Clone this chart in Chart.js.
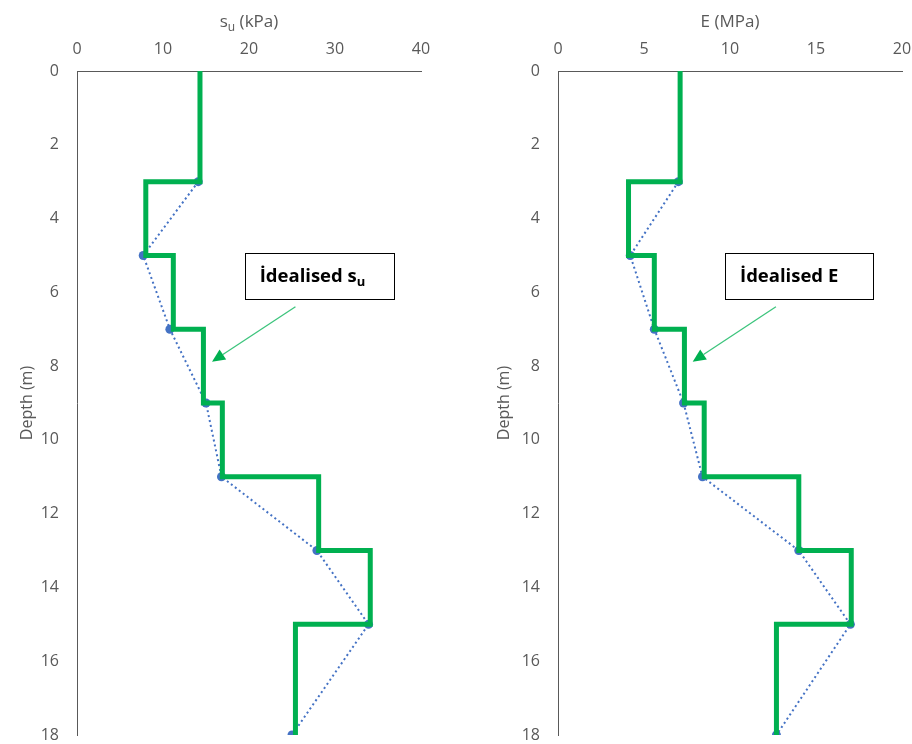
<!DOCTYPE html>
<html>
<head>
<meta charset="utf-8">
<script src="https://cdn.jsdelivr.net/npm/chart.js@4.4.1/dist/chart.umd.min.js"></script>
<style>
  html, body { margin: 0; padding: 0; background: #fff; }
  #wrap { position: relative; width: 912px; height: 744px; }
  canvas { position: absolute; top: 0; }
</style>
</head>
<body>
<div id="wrap">
  <canvas id="suChart" width="456" height="744" style="left:0"></canvas>
  <canvas id="eChart" width="456" height="744" style="left:456px"></canvas>
</div>
<script>
// measured points (depth in m)
var measuredDepth = [3, 5, 7, 9, 11, 13, 15, 18];
var suMeasured = [14.1, 7.7, 10.8, 15.0, 16.8, 27.9, 33.9, 25.0];
var eMeasured = [7.0, 4.2, 5.6, 7.3, 8.4, 14.0, 17.0, 12.7];

// idealised layers: value holds from this depth down to the next one
var layerDepth = [0, 3, 5, 7, 9, 11, 13, 15, 18];
var suIdealised = [14.3, 8.0, 11.2, 14.7, 16.9, 28.1, 34.1, 25.4, 25.4];
var eIdealised = [7.1, 4.1, 5.6, 7.35, 8.5, 14.0, 17.05, 12.7, 12.7];

var depthTicks = [0, 2, 4, 6, 8, 10, 12, 14, 16, 18];

var GREEN = '#00B050';
var BLUE = '#4472C4';
var AXIS = '#595959';
var FONT = "'Open Sans', sans-serif";

function pts(xs, ys) {
  return xs.map(function (v, i) { return { x: v, y: ys[i] }; });
}

// draws x axis title (with optional subscript) and the callout box + arrow
var calloutPlugin = {
  id: 'callout',
  afterDraw: function (chart, args, opts) {
    var ctx = chart.ctx;
    var xs = chart.scales.x, ys = chart.scales.y;
    ctx.save();

    // axis title
    var title = opts.title;
    ctx.textBaseline = 'alphabetic';
    ctx.fillStyle = AXIS;
    var w = 0;
    title.forEach(function (s) {
      ctx.font = s.size + 'px ' + FONT;
      w += ctx.measureText(s.t).width;
    });
    var cx = (chart.chartArea.left + chart.chartArea.right) / 2 - w / 2;
    title.forEach(function (s) {
      ctx.font = s.size + 'px ' + FONT;
      ctx.fillText(s.t, cx, opts.titleY + (s.dy || 0));
      cx += ctx.measureText(s.t).width;
    });

    // box
    var b = opts.box;
    var x0 = xs.getPixelForValue(b.x0), x1 = xs.getPixelForValue(b.x1);
    var y0 = ys.getPixelForValue(b.y0), y1 = ys.getPixelForValue(b.y1);
    ctx.fillStyle = '#fff';
    ctx.fillRect(x0, y0, x1 - x0, y1 - y0);
    ctx.strokeStyle = '#000';
    ctx.lineWidth = 1;
    ctx.strokeRect(Math.round(x0) + 0.5, Math.round(y0) + 0.5, Math.round(x1 - x0), Math.round(y1 - y0));

    ctx.fillStyle = '#000';
    var tx = x0 + 15;
    var ty = (y0 + y1) / 2 + 6;
    opts.label.forEach(function (s) {
      ctx.font = 'bold ' + s.size + 'px ' + FONT;
      ctx.fillText(s.t, tx, ty + (s.dy || 0));
      tx += ctx.measureText(s.t).width;
    });

    // arrow
    var a = opts.arrow;
    var ax0 = xs.getPixelForValue(a.x0), ay0 = ys.getPixelForValue(a.y0);
    var ax1 = xs.getPixelForValue(a.x1), ay1 = ys.getPixelForValue(a.y1);
    var ang = Math.atan2(ay1 - ay0, ax1 - ax0);
    var hl = 13, hw = 6;
    var bx = ax1 - hl * Math.cos(ang), by = ay1 - hl * Math.sin(ang);
    ctx.strokeStyle = '#3CC47C';
    ctx.lineWidth = 1.3;
    ctx.beginPath();
    ctx.moveTo(ax0, ay0);
    ctx.lineTo(bx, by);
    ctx.stroke();
    ctx.fillStyle = GREEN;
    ctx.beginPath();
    ctx.moveTo(ax1, ay1);
    ctx.lineTo(bx + hw * Math.sin(ang), by - hw * Math.cos(ang));
    ctx.lineTo(bx - hw * Math.sin(ang), by + hw * Math.cos(ang));
    ctx.closePath();
    ctx.fill();

    ctx.restore();
  }
};

function makeChart(id, measured, idealised, xMax, xStep, padLeft, padRight, yWidth, callout) {
  return new Chart(document.getElementById(id), {
    type: 'scatter',
    data: {
      datasets: [{
        label: 'Idealised',
        data: pts(idealised, layerDepth),
        showLine: true,
        stepped: 'after',
        borderColor: GREEN,
        borderWidth: 5,
        borderJoinStyle: 'miter',
        pointRadius: 0
      }, {
        label: 'Measured',
        data: pts(measured, measuredDepth),
        showLine: true,
        borderColor: BLUE,
        borderWidth: 2,
        borderDash: [2, 3],
        pointRadius: 4.5,
        pointBackgroundColor: BLUE,
        pointBorderWidth: 0
      }]
    },
    options: {
      responsive: false,
      animation: false,
      layout: { padding: { left: padLeft, right: padRight, top: 0, bottom: 9 } },
      plugins: {
        legend: { display: false },
        tooltip: { enabled: false },
        callout: callout
      },
      scales: {
        x: {
          type: 'linear',
          position: 'top',
          min: 0,
          max: xMax,
          afterFit: function (s) { s.height = 71; s.paddingLeft = 0; s.paddingRight = 0; },
          ticks: { stepSize: xStep, padding: 12, color: AXIS, font: { family: FONT, size: 16 } },
          grid: { display: false, drawTicks: false },
          border: { display: true, color: AXIS, width: 1 }
        },
        y: {
          type: 'linear',
          reverse: true,
          min: 0,
          max: 18,
          afterFit: function (s) { s.width = yWidth; s.paddingTop = 0; s.paddingBottom = 0; },
          afterBuildTicks: function (s) { s.ticks = depthTicks.map(function (v) { return { value: v }; }); },
          ticks: { padding: 18, color: AXIS, font: { family: FONT, size: 16 } },
          grid: { display: false, drawTicks: false },
          border: { display: true, color: AXIS, width: 1 },
          title: { display: true, text: 'Depth (m)', color: AXIS, font: { family: FONT, size: 16 }, padding: { top: 4, bottom: 4 } }
        }
      }
    },
    plugins: [calloutPlugin]
  });
}

makeChart('suChart', suMeasured, suIdealised, 40, 10, 14, 35, 63, {
  title: [{ t: 's', size: 17 }, { t: 'u', size: 12, dy: 4 }, { t: ' (kPa)', size: 17 }],
  titleY: 27,
  box: { x0: 19.5, x1: 36.8, y0: 4.93, y1: 6.19 },
  label: [{ t: 'İdealised s', size: 18.5 }, { t: 'u', size: 13, dy: 4 }],
  arrow: { x0: 25.4, y0: 6.39, x1: 15.7, y1: 7.88 }
});

makeChart('eChart', eMeasured, eIdealised, 20, 5, 35, 10, 67, {
  title: [{ t: 'E (MPa)', size: 17 }],
  titleY: 27,
  box: { x0: 9.71, x1: 18.32, y0: 4.94, y1: 6.18 },
  label: [{ t: 'İdealised E', size: 18.5 }],
  arrow: { x0: 12.67, y0: 6.39, x1: 7.83, y1: 7.88 }
});
</script>
</body>
</html>
